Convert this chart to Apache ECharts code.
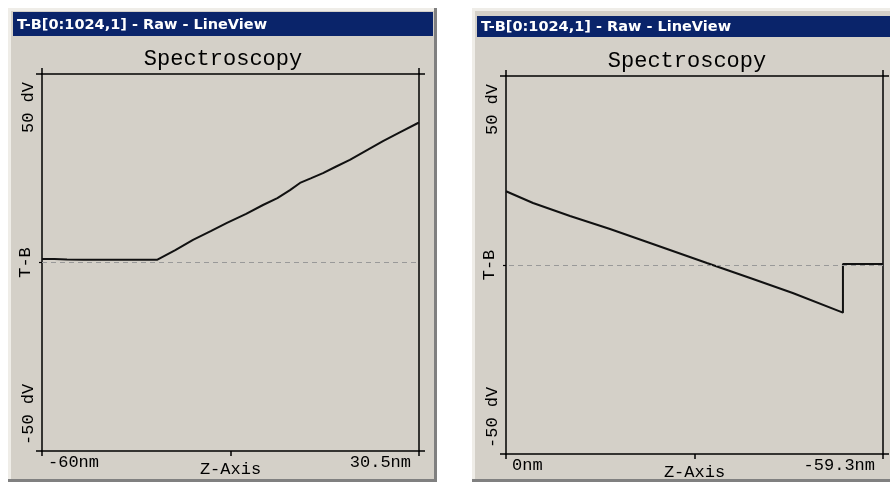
<!DOCTYPE html>
<html>
<head>
<meta charset="utf-8">
<script src="https://cdn.jsdelivr.net/npm/echarts@6/dist/echarts.min.js"></script>
<style>
  html, body { margin: 0; padding: 0; background: #fff; }
  #chart { width: 890px; height: 483px; }
</style>
</head>
<body>
<div id="chart"></div>
<script>
var windowTitle = "T-B[0:1024,1] - Raw - LineView";
var plotTitle = "Spectroscopy";

// left window: Z from -60nm to 30.5nm
var leftZRange = [-60, 30.5];
var leftZ = [-60, -57, -54, -50, -45, -40, -35, -32.4, -28, -23.75, -19.5, -15.6, -11, -6.95, -3.5, -0.47, 1.93, 4.5, 7.45, 10.5, 13.9, 17.5, 21.85, 26, 30.26, 30.5];
var leftTB = [0.9, 0.9, 0.8, 0.7, 0.7, 0.7, 0.7, 0.7, 3.3, 6.0, 8.3, 10.5, 12.9, 15.25, 17.1, 19.2, 21.1, 22.3, 23.7, 25.4, 27.2, 29.5, 32.2, 34.6, 37.0, 37.1];

// right window: Z from 0nm to -59.3nm (drawn reversed)
var rightZRange = [-59.3, 0];
var rightZ = [0, -4.25, -10.07, -16.36, -22.65, -31.6, -38.4, -45.1, -53.0, -53.0, -59.3];
var rightTB = [19.5, 16.4, 12.96, 9.52, 5.82, 0.53, -3.44, -7.4, -12.6, 0.26, 0.26];

var tbRange = [-50, 50];

var myChart = echarts.init(document.getElementById("chart"));

var winGray = "#d4d0c8";
var ink = "#000";
var monoFont = "Liberation Mono";

function pairs(xs, ys) {
  return xs.map(function (x, i) { return [x, ys[i]]; });
}

function xAxes(grid, range, inverse) {
  var mid = (range[0] + range[1]) / 2;
  return [
    {
      gridIndex: grid,
      type: "value",
      min: range[0],
      max: range[1],
      inverse: inverse,
      position: "bottom",
      name: "Z-Axis",
      nameLocation: "middle",
      nameGap: 10,
      nameMoveOverlap: false,
      nameTextStyle: { color: ink, fontFamily: monoFont, fontSize: 17, verticalAlign: "top" },
      axisLine: { show: true, onZero: false, lineStyle: { color: ink, width: 1.5 } },
      axisTick: { show: true, length: 5, customValues: [range[0], mid, range[1]], lineStyle: { color: ink, width: 1.5 } },
      axisLabel: {
        show: true,
        customValues: [range[0], range[1]],
        color: ink,
        fontFamily: monoFont,
        fontSize: 17,
        margin: 3,
        padding: [0, 8, 0, 6],
        alignMinLabel: inverse ? "right" : "left",
        alignMaxLabel: inverse ? "left" : "right",
        formatter: function (v) { return v + "nm"; },
      },
      splitLine: { show: false },
    },
    {
      gridIndex: grid,
      type: "value",
      min: range[0],
      max: range[1],
      inverse: inverse,
      position: "top",
      axisLine: { show: true, onZero: false, lineStyle: { color: ink, width: 1.5 } },
      axisTick: { show: true, length: 6, customValues: [range[0], range[1]], lineStyle: { color: ink, width: 1.5 } },
      axisLabel: { show: false },
      splitLine: { show: false },
    },
  ];
}

function yAxes(grid) {
  return [
    {
      gridIndex: grid,
      type: "value",
      min: tbRange[0],
      max: tbRange[1],
      position: "left",
      name: "T-B",
      nameLocation: "middle",
      nameRotate: 90,
      nameGap: 8,
      nameMoveOverlap: false,
      nameTextStyle: { color: ink, fontFamily: monoFont, fontSize: 17 },
      axisLine: { show: true, onZero: false, lineStyle: { color: ink, width: 1.5 } },
      axisTick: { show: true, length: 6, customValues: tbRange, lineStyle: { color: ink, width: 1.5 } },
      axisLabel: {
        show: true,
        customValues: tbRange,
        rotate: 90,
        color: ink,
        fontFamily: monoFont,
        fontSize: 17,
        margin: 5,
        padding: [0, 8, 0, 6],
        alignMinLabel: "left",
        alignMaxLabel: "right",
        verticalAlign: "bottom",
        formatter: function (v) { return v + " dV"; },
      },
      splitLine: { show: false },
    },
    {
      gridIndex: grid,
      type: "value",
      min: tbRange[0],
      max: tbRange[1],
      position: "right",
      axisLine: { show: true, onZero: false, lineStyle: { color: ink, width: 1.5 } },
      axisTick: { show: true, length: 6, customValues: tbRange, lineStyle: { color: ink, width: 1.5 } },
      axisLabel: { show: false },
      splitLine: { show: false },
    },
    {
      // short zero tick on the left edge
      gridIndex: grid,
      type: "value",
      min: tbRange[0],
      max: tbRange[1],
      position: "left",
      axisLine: { show: false, onZero: false },
      axisTick: { show: true, length: 3, customValues: [0], lineStyle: { color: ink, width: 1.2 } },
      axisLabel: { show: false },
      splitLine: { show: false },
    },
  ];
}

function lineSeries(idx, data) {
  return {
    type: "line",
    xAxisIndex: idx * 2,
    yAxisIndex: idx * 3,
    data: data,
    showSymbol: false,
    symbol: "none",
    lineStyle: { color: "#111", width: 2 },
    markLine: {
      silent: true,
      symbol: "none",
      label: { show: false },
      lineStyle: { color: "#999", width: 1, type: [5, 4] },
      data: [{ yAxis: 0 }],
    },
  };
}

// window frames + title bars drawn behind the plots
function windowFrame(x, y, w, h, barY, barH) {
  return [
    { type: "rect", z: -5, shape: { x: x, y: y, width: w, height: h }, style: { fill: "#808080" } },
    { type: "rect", z: -4, shape: { x: x, y: y, width: w - 3, height: h - 3 }, style: { fill: "#efede8" } },
    { type: "rect", z: -3, shape: { x: x + 3, y: y + 3, width: w - 6, height: h - 6 }, style: { fill: winGray } },
    { type: "rect", z: -2, shape: { x: x + 5, y: barY, width: w - 9, height: barH }, style: { fill: "#0a246a" } },
  ];
}

function titleText(text, left, top, style, align) {
  return {
    text: text,
    left: left,
    top: top,
    padding: 0,
    textAlign: align,
    textVerticalAlign: "middle",
    textStyle: style,
  };
}

var barStyle = { color: "#fff", fontFamily: "DejaVu Sans", fontWeight: "bold", fontSize: 14.5 };
var plotStyle = { color: ink, fontFamily: monoFont, fontWeight: "normal", fontSize: 22 };

var option = {
  animation: false,
  backgroundColor: "#fff",
  graphic: windowFrame(8, 8, 429, 474, 12, 24).concat(windowFrame(472, 8, 430, 474, 16, 21)),
  title: [
    titleText(windowTitle, 17, 25, barStyle, "left"),
    titleText(windowTitle, 481, 27, barStyle, "left"),
    titleText(plotTitle, 223, 59, plotStyle, "center"),
    titleText(plotTitle, 687, 61, plotStyle, "center"),
  ],
  grid: [
    { left: 42, top: 74, width: 377, height: 377, outerBoundsMode: "none" },
    { left: 506, top: 76, width: 377, height: 378, outerBoundsMode: "none" },
  ],
  xAxis: xAxes(0, leftZRange, false).concat(xAxes(1, rightZRange, true)),
  yAxis: yAxes(0).concat(yAxes(1)),
  series: [
    lineSeries(0, pairs(leftZ, leftTB)),
    lineSeries(1, pairs(rightZ, rightTB)),
  ],
};

myChart.setOption(option);
window.addEventListener("resize", function () { myChart.resize(); });
</script>
</body>
</html>
